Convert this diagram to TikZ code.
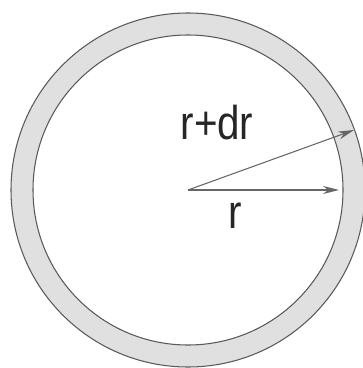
\documentclass[tikz,border=0pt]{standalone}
\usepackage{fontspec}
\setmainfont{Liberation Sans}
\usetikzlibrary{arrows.meta}

\begin{document}
\begin{tikzpicture}[
    x=0.02cm, y=-0.02cm,
    ring/.style={draw=black!65, line width=0.6pt, fill=black!12},
    hole/.style={draw=black!65, line width=0.6pt, fill=white},
    spoke/.style={-{Stealth[length=3.2mm, width=1.6mm]}, draw=black!60, line width=0.6pt},
    lbl/.style={font=\fontsize{27}{27}\selectfont, text=black!85, xscale=0.85, inner sep=0pt}
]
    \useasboundingbox (0,0) rectangle (362,368);
    \fill[white] (0,0) rectangle (362,368);

    \coordinate (centre) at (188,190);
    \draw[ring] (centre) circle[radius=177];
    \draw[hole] (centre) circle[radius=155];

    \coordinate (inner) at (339,190);
    \coordinate (outer) at (354,130);
    \draw[spoke] (centre) -- (outer);
    \draw[spoke] (centre) -- (inner);

    \node[lbl] (rdr) at (217,123) {r+dr};
    \node[lbl] (r)   at (235,216) {r};
\end{tikzpicture}
\end{document}
